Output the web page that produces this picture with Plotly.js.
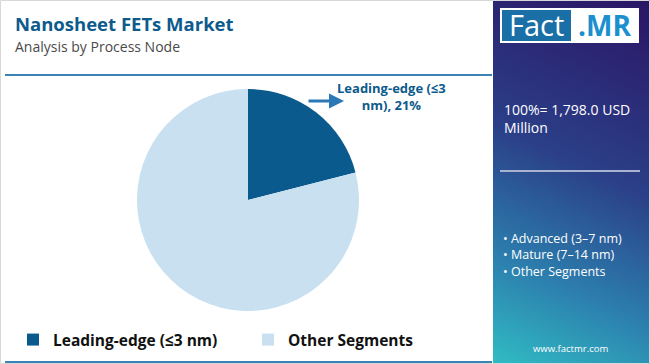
<!DOCTYPE html>
<html>
<head>
<meta charset="utf-8">
<script src="https://cdn.plot.ly/plotly-3.0.1.min.js"></script>
<style>
  html, body { margin: 0; padding: 0; background: #ffffff; }
  #wrap { position: relative; width: 650px; height: 364px; overflow: hidden; }
  #panel { position: absolute; left: 493px; top: 0; width: 157px; height: 364px;
    background: linear-gradient(205deg, #2b1565 0%, #2b3f88 45%, #2c7fae 75%, #31bcc3 100%); }
  #chart { position: absolute; left: 0; top: 0; width: 650px; height: 364px; }
</style>
</head>
<body>
<div id="wrap">
  <div id="panel"></div>
  <div id="chart"></div>
</div>
<script>
const categories = ["Leading-edge (≤3 nm)", "Other Segments"];
const shares = [21, 79];
const colors = ["#0b5a8e", "#c9e0f1"];
const sideBullets = ["• Advanced (3–7 nm)", "• Mature (7–14 nm)", "• Other Segments"];
const totalLabel = "100%= 1,798.0 USD<br>Million";

const W = 650, H = 364;
const px = x => x / W;
const py = y => 1 - y / H;

const trace = {
  type: "pie",
  labels: categories,
  values: shares,
  sort: false,
  direction: "clockwise",
  rotation: 0,
  marker: { colors: colors, line: { width: 0 } },
  textinfo: "none",
  hoverinfo: "none",
  domain: { x: [px(137), px(359)], y: [py(311), py(89)] }
};

const annotations = [
  { xref: "paper", yref: "paper", x: px(13), y: py(24), xanchor: "left", yanchor: "middle",
    text: "<b>Nanosheet FETs Market</b>", showarrow: false,
    font: { family: "Open Sans, sans-serif", size: 18.5, color: "#0d5a8c" } },
  { xref: "paper", yref: "paper", x: px(13), y: py(46), xanchor: "left", yanchor: "middle",
    text: "Analysis by Process Node", showarrow: false,
    font: { family: "Open Sans, sans-serif", size: 14, color: "#4a4a4a" } },
  { xref: "paper", yref: "paper", x: px(391), y: py(97), xanchor: "center", yanchor: "middle",
    text: "<b>Leading-edge (≤3<br>nm), " + shares[0] + "%</b>", showarrow: false,
    font: { family: "Open Sans, sans-serif", size: 13, color: "#0d5a8c" } },
  { xref: "paper", yref: "paper", x: px(344), y: py(101), text: "", showarrow: true,
    ax: -37, ay: 0, arrowhead: 2, arrowsize: 1, arrowwidth: 3, arrowcolor: "#2a78b5" },
  { xref: "paper", yref: "paper", x: px(502), y: py(119), xanchor: "left", yanchor: "middle", align: "left",
    text: totalLabel, showarrow: false,
    font: { family: "Open Sans, sans-serif", size: 14, color: "#ffffff" } },
  { xref: "paper", yref: "paper", x: px(501), y: py(255), xanchor: "left", yanchor: "middle", align: "left",
    text: sideBullets.join("<br>"), showarrow: false,
    font: { family: "Open Sans, sans-serif", size: 12.5, color: "#ffffff" } },
  { xref: "paper", yref: "paper", x: px(570), y: py(348), xanchor: "center", yanchor: "middle",
    text: "www.factmr.com", showarrow: false,
    font: { family: "Open Sans, sans-serif", size: 9.5, color: "#ffffff" } },
  { xref: "paper", yref: "paper", x: px(536), y: py(25), xanchor: "center", yanchor: "middle",
    text: "Fact", showarrow: false,
    font: { family: "Open Sans, sans-serif", size: 29, color: "#ffffff" } },
  { xref: "paper", yref: "paper", x: px(604), y: py(25), xanchor: "center", yanchor: "middle",
    text: "<b>.MR</b>", showarrow: false,
    font: { family: "Open Sans, sans-serif", size: 28, color: "#1c8fcf" } }
];

const shapes = [
  { type: "rect", xref: "paper", yref: "paper", x0: px(0.5), x1: px(649.5), y0: py(363.5), y1: py(0.5),
    line: { color: "#d8d8d8", width: 1 }, fillcolor: "rgba(0,0,0,0)" },
  { type: "line", xref: "paper", yref: "paper", x0: px(5), x1: px(492), y0: py(75), y1: py(75),
    line: { color: "#3d82b6", width: 2 } },
  { type: "line", xref: "paper", yref: "paper", x0: px(5), x1: px(492), y0: py(362), y1: py(362),
    line: { color: "#3d82b6", width: 2 } },
  { type: "rect", xref: "paper", yref: "paper", x0: px(500), x1: px(639), y0: py(43), y1: py(8),
    line: { width: 0 }, fillcolor: "#ffffff" },
  { type: "rect", xref: "paper", yref: "paper", x0: px(502), x1: px(571), y0: py(41), y1: py(10),
    line: { width: 0 }, fillcolor: "#1a6fa6" },
  { type: "line", xref: "paper", yref: "paper", x0: px(500), x1: px(640), y0: py(171), y1: py(171),
    line: { color: "#a9b3cf", width: 2 } }
];

const layout = {
  width: W, height: H,
  margin: { l: 0, r: 0, t: 0, b: 0 },
  paper_bgcolor: "rgba(0,0,0,0)",
  plot_bgcolor: "rgba(0,0,0,0)",
  showlegend: true,
  legend: {
    orientation: "h", x: px(13), y: py(340), xanchor: "left", yanchor: "middle",
    entrywidth: 190, entrywidthmode: "pixels",
    font: { family: "Open Sans, sans-serif", size: 15.5, color: "#111111", weight: "bold" },
    itemwidth: 30, traceorder: "normal", bgcolor: "rgba(0,0,0,0)"
  },
  annotations: annotations,
  shapes: shapes
};

Plotly.newPlot("chart", [trace], layout, { staticPlot: true, displayModeBar: false });
</script>
</body>
</html>
